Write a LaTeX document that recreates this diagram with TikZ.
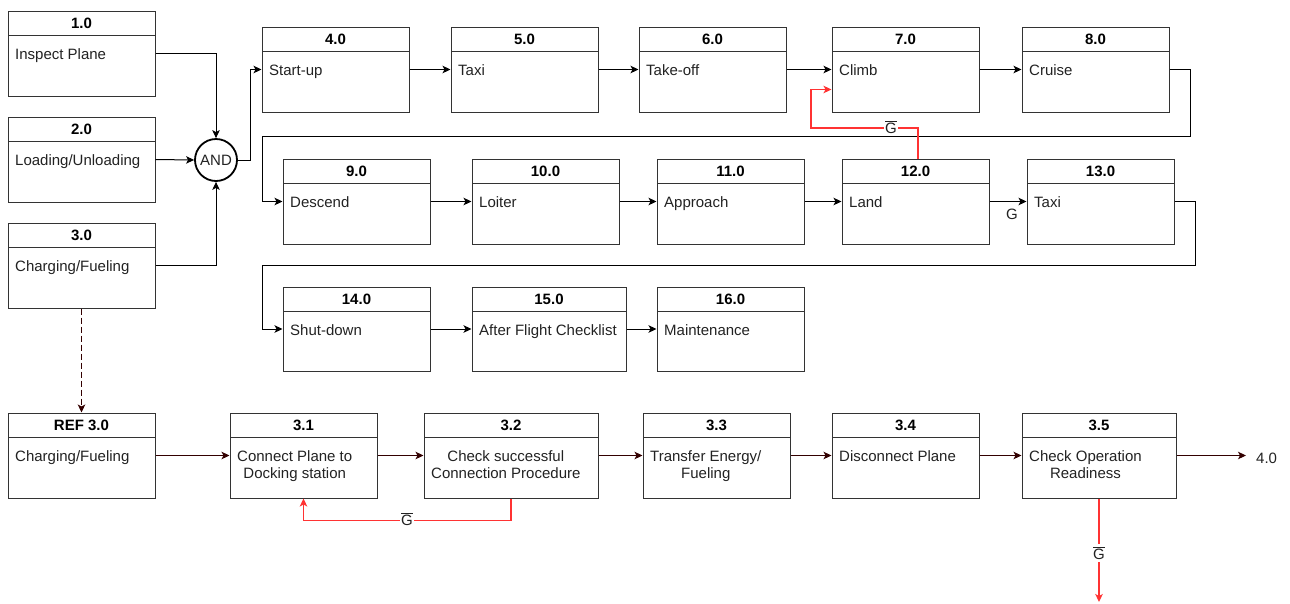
\documentclass[tikz,border=0pt]{standalone}
\usepackage{fontspec}
\setmainfont{Liberation Sans}
\usetikzlibrary{fit,arrows.meta}

\definecolor{ink}{HTML}{222222}
\definecolor{rim}{HTML}{333333}
\definecolor{flow}{HTML}{330000}
\definecolor{alarm}{HTML}{FF3333}

% G with an overbar (negated guard)
\newcommand\gbar{\leavevmode\vbox{\hrule height 0.8pt\kern1.3pt\hbox{G}}}

\tikzset{
  every node/.style={font=\fontsize{15}{17}\selectfont, text=ink},
  frame/.style={draw=rim, line width=1pt, inner sep=0pt},
  rule/.style={draw=rim, line width=1pt},
  head/.style={font=\fontsize{15}{17}\selectfont\bfseries, text=black, inner sep=0pt},
  body/.style={anchor=north west, inner sep=0pt, align=center},
  tip/.style={-{Stealth[length=8pt,width=7.5pt,inset=2pt]}},
  link/.style={tip, draw=black, line width=1pt},
  dlink/.style={tip, draw=flow, line width=1pt},
  rlink/.style={tip, draw=alarm, line width=1.3pt},
  tag/.style={fill=white, inner sep=1pt},
}

% process box: name, x1, y1, x2, y2, number, description
\newcommand\procbox[7]{%
  \node[frame, fit={(#2,#3) (#4,#5)}] (#1) {};
  \draw[rule] (#2,{#3+24}) -- (#4,{#3+24});
  \node[head] at ({(#2+#4)/2},{#3+12}) {#6};
  \node[body] at ({#2+7},{#3+37.5}) {#7};
}

\begin{document}
\begin{tikzpicture}[x=1pt, y=-1pt]
\useasboundingbox (0,0) rectangle (1290,603);

% preparation
\procbox{b1}{8}{11}{155}{96}{1.0}{Inspect Plane}
\procbox{b2}{8}{117}{155}{202}{2.0}{Loading/Unloading}
\procbox{b3}{8}{223}{155}{308}{3.0}{Charging/Fueling}
\node[circle, draw=black, line width=1.8pt, minimum size=42pt, inner sep=0pt] (and) at (216,160) {AND};

% flight phases
\procbox{b4}{262}{27}{409}{112}{4.0}{Start-up}
\procbox{b5}{451}{27}{598}{112}{5.0}{Taxi}
\procbox{b6}{639}{27}{786}{112}{6.0}{Take-off}
\procbox{b7}{832}{27}{979}{112}{7.0}{Climb}
\procbox{b8}{1022}{27}{1169}{112}{8.0}{Cruise}
\procbox{b9}{283}{159}{430}{244}{9.0}{Descend}
\procbox{b10}{472}{159}{619}{244}{10.0}{Loiter}
\procbox{b11}{657}{159}{804}{244}{11.0}{Approach}
\procbox{b12}{842}{159}{989}{244}{12.0}{Land}
\procbox{b13}{1027}{159}{1174}{244}{13.0}{Taxi}
\procbox{b14}{283}{287}{430}{371}{14.0}{Shut-down}
\procbox{b15}{472}{287}{626}{371}{15.0}{After Flight Checklist}
\procbox{b16}{657}{287}{804}{371}{16.0}{Maintenance}

% charging / fueling breakdown
\procbox{ref}{8}{413}{155}{498}{REF 3.0}{Charging/Fueling}
\procbox{c1}{230}{413}{377}{498}{3.1}{Connect Plane to\\Docking station}
\procbox{c2}{424}{413}{598}{498}{3.2}{Check successful\\Connection Procedure}
\procbox{c3}{643}{413}{790}{498}{3.3}{Transfer Energy/\\Fueling}
\procbox{c4}{832}{413}{979}{498}{3.4}{Disconnect Plane}
\procbox{c5}{1022}{413}{1176}{498}{3.5}{Check Operation\\Readiness}
\node[inner sep=0pt, anchor=west] (t40) at (1256,458) {4.0};
\coordinate (sink) at (1099,602);

% joins into AND
\draw[link] (b1.east) -| (and.north);
\draw[link] (b2.east) -- (and.west);
\draw[link] (b3.east) -| (and.south);
\draw[link] (and.east) -- ++(13,0) |- (b4.west);

% flight sequence
\draw[link] (b4.east) -- (b5.west);
\draw[link] (b5.east) -- (b6.west);
\draw[link] (b6.east) -- (b7.west);
\draw[link] (b7.east) -- (b8.west);
\draw[link] (b8.east) -| (1190,136) -- (262,136) |- (b9.west);
\draw[link] (b9.east) -- (b10.west);
\draw[link] (b10.east) -- (b11.west);
\draw[link] (b11.east) -- (b12.west);
\draw[link] (b12.east) -- (b13.west);
\node at (1012,214) {G};
\draw[link] (b13.east) -| (1195,265) -- (262,265) |- (b14.west);
\draw[link] (b14.east) -- (b15.west);
\draw[link] (b15.east) -- (b16.west);

% go-around loop
\draw[rlink] ([xshift=2.5pt]b12.north) |- (811,128) |- ([yshift=-20pt]b7.west);
\node[tag] at (891,127) {\gbar};

% charging / fueling sequence
\draw[dlink, dash pattern=on 6pt off 3pt] (b3.south) -- (ref.north);
\draw[dlink] (ref.east) -- (c1.west);
\draw[dlink] (c1.east) -- (c2.west);
\draw[dlink] (c2.east) -- (c3.west);
\draw[dlink] (c3.east) -- (c4.west);
\draw[dlink] (c4.east) -- (c5.west);
\draw[dlink] (c5.east) -- ([xshift=-10pt]c5.east -| t40.west);

% retry and abort branches
\draw[rlink] (c2.south) -- ++(0,22) -| (c1.south);
\node[tag] at (407,519) {\gbar};
\draw[rlink] (c5.south) -- (sink);
\node[tag, inner ysep=3pt] at (1099,553) {\gbar};
\end{tikzpicture}
\end{document}
